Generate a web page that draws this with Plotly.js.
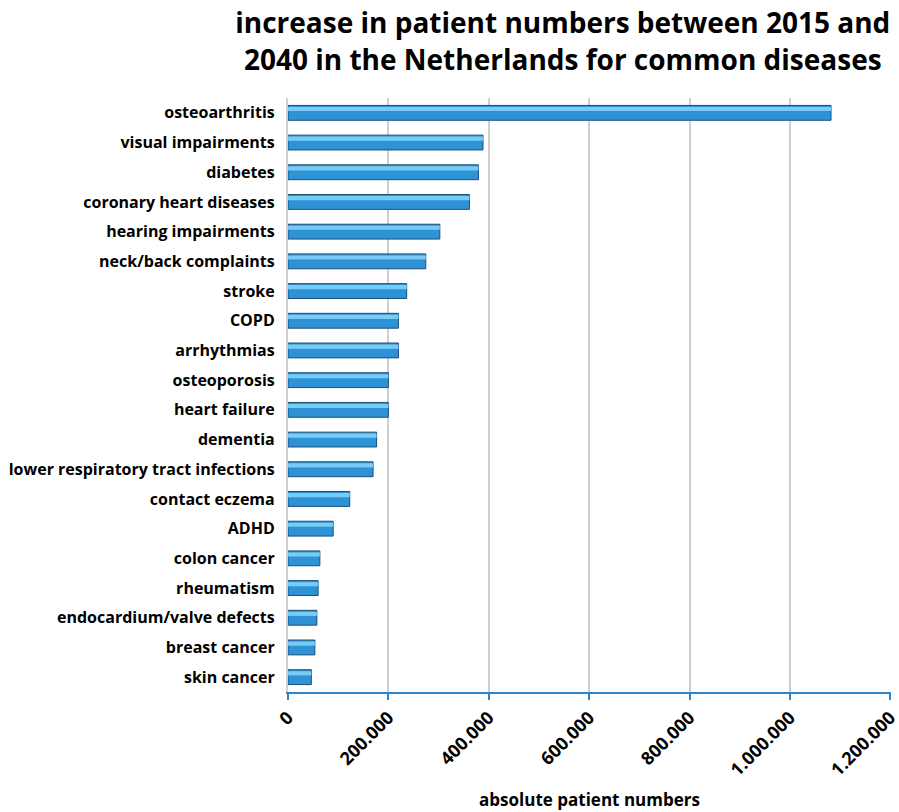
<!DOCTYPE html>
<html>
<head>
<meta charset="utf-8">
<script src="https://cdn.plot.ly/plotly-3.0.1.min.js"></script>
<style>html,body{margin:0;padding:0;background:#fff;}#chart{width:899px;height:812px;}</style>
</head>
<body>
<div id="chart"></div>
<script>
const diseases = ["osteoarthritis","visual impairments","diabetes","coronary heart diseases","hearing impairments","neck/back complaints","stroke","COPD","arrhythmias","osteoporosis","heart failure","dementia","lower respiratory tract infections","contact eczema","ADHD","colon cancer","rheumatism","endocardium/valve defects","breast cancer","skin cancer"];
const patientIncrease = [1082000,388500,379500,361500,302500,274500,236500,220000,220000,200000,200000,176500,169500,123000,90000,63500,60000,57500,53500,46500];
const tickValues = [0,200000,400000,600000,800000,1000000,1200000];
const tickLabels = ["0","200.000","400.000","600.000","800.000","1.000.000","1.200.000"];

const font = "Open Sans, Noto Sans, sans-serif";
const traces = [
  {type:"bar", orientation:"h", y:diseases, x:patientIncrease, width:0.5,
   marker:{color:"#2d93d6", line:{color:"#1a4f78", width:1}}, hoverinfo:"x+y"},
  {type:"bar", orientation:"h", y:diseases, x:patientIncrease, width:0.14, offset:-0.2,
   marker:{color:"#78ccf4", line:{width:0}}, hoverinfo:"skip"}
];
const layout = {
  width:899, height:812, showlegend:false, barmode:"overlay",
  paper_bgcolor:"#fff", plot_bgcolor:"#fff",
  margin:{l:288, r:8, t:98, b:120},
  title:{text:"increase in patient numbers between 2015 and<br>2040 in the Netherlands for common diseases",
    font:{family:font, size:28, color:"#000", weight:700}, x:0.626, xanchor:"center", y:0.959, yanchor:"middle", yref:"container"},
  xaxis:{range:[0,1201500], tickvals:tickValues, ticktext:tickLabels, tickangle:-45, ticklabeloverflow:"allow",
    showgrid:true, gridcolor:"#cfcfcf", gridwidth:1.5, zeroline:false,
    showline:true, linecolor:"#2f86c6", linewidth:2, ticks:"outside", tickcolor:"#2f86c6", ticklen:6, tickwidth:2,
    tickfont:{family:font, size:18, color:"#000", weight:700},
    title:{text:"absolute patient numbers", font:{family:font, size:17, color:"#000", weight:700}, standoff:14}},
  yaxis:{type:"category", autorange:"reversed", showline:true, linecolor:"#cfcfcf", linewidth:1.5,
    ticks:"", tickfont:{family:font, size:16, color:"#000", weight:700}, ticksuffix:"  "}
};
Plotly.newPlot("chart", traces, layout, {displayModeBar:false});
</script>
</body>
</html>
